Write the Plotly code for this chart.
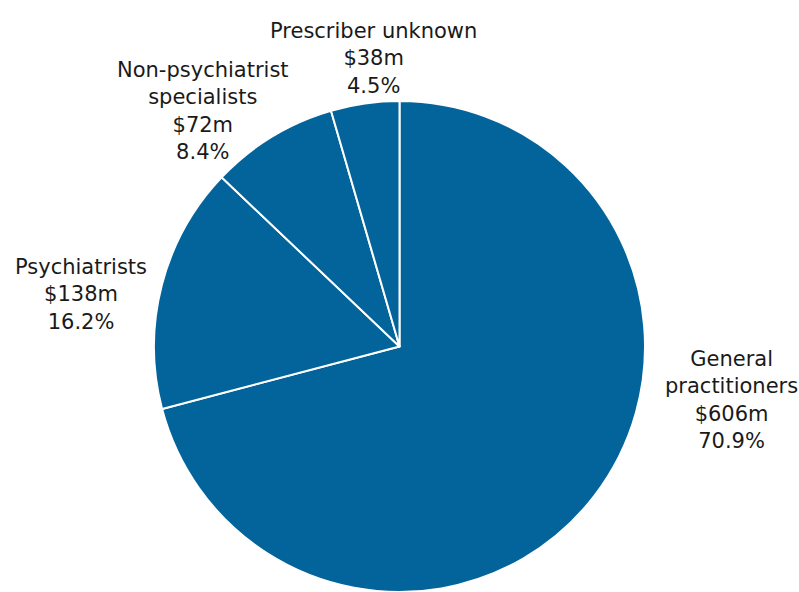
import plotly.graph_objects as go

# Spending by prescriber type
categories = ["General<br>practitioners", "Psychiatrists",
              "Non-psychiatrist<br>specialists", "Prescriber unknown"]
spend_m = [606, 138, 72, 38]
share_pct = [70.9, 16.2, 8.4, 4.5]

W, H = 799, 592
FILL = "#02649a"

fig = go.Figure(go.Pie(
    labels=categories,
    values=share_pct,
    sort=False,
    direction="clockwise",
    rotation=0,
    textinfo="none",
    hoverinfo="label+value",
    marker=dict(colors=[FILL] * len(categories),
                line=dict(color="white", width=2)),
    domain=dict(x=[0, 1], y=[0, (H - 101) / H]),
    showlegend=False,
))

# Label anchor points (pixel centres of each text block)
label_px = [(731, 400), (81, 295), (203, 111), (373, 58)]

for cat, amt, pct, (px, py) in zip(categories, spend_m, share_pct, label_px):
    fig.add_annotation(
        x=px / W, y=1 - py / H, xref="paper", yref="paper",
        text=f"{cat}<br>${amt}m<br>{pct:.1f}%",
        showarrow=False, xanchor="center", yanchor="middle",
        align="center",
        font=dict(family="DejaVu Sans, Arial, sans-serif", size=21,
                  color="#1a1a1a"),
    )

fig.update_layout(
    width=W, height=H,
    margin=dict(l=0, r=0, t=0, b=0),
    paper_bgcolor="white",
    plot_bgcolor="white",
)

fig.write_html("out.html")
